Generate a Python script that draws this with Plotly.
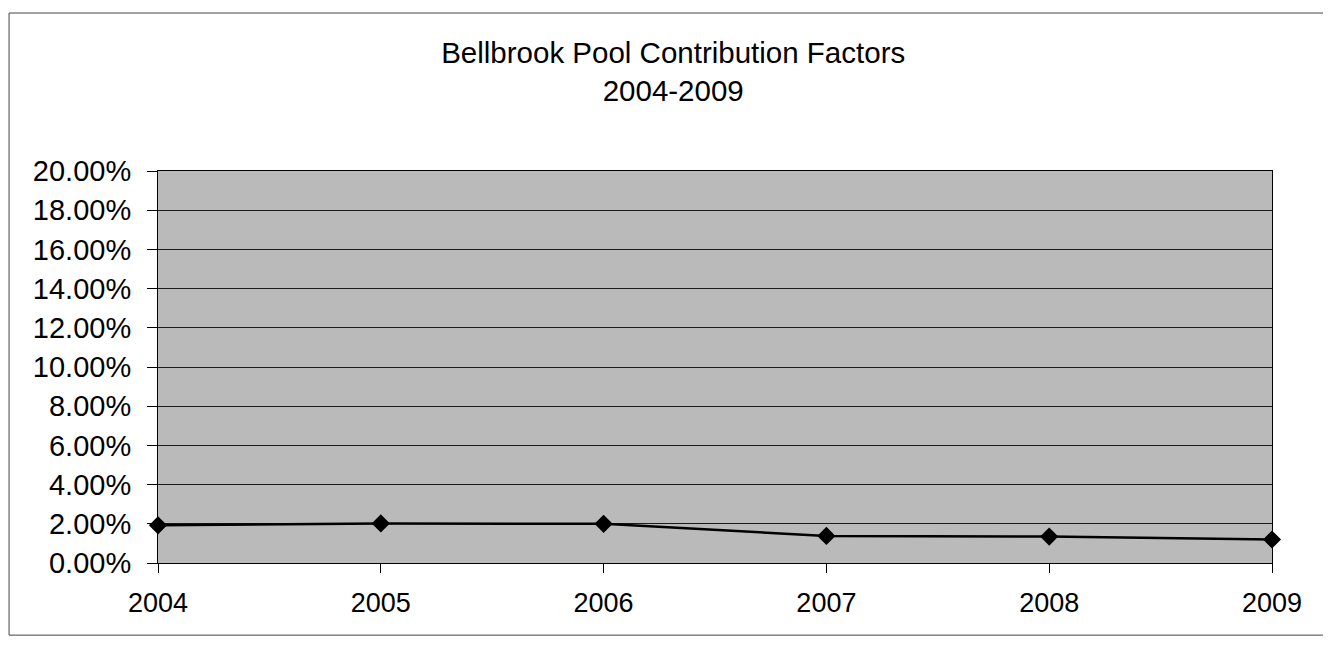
import plotly.graph_objects as go

years = [2004, 2005, 2006, 2007, 2008, 2009]
factors = [0.0192, 0.0202, 0.0200, 0.0138, 0.0135, 0.0120]
y_ticks = [i / 100 for i in range(0, 21, 2)]
y_tick_labels = [f"{v*100:.2f}%" for v in y_ticks]

fig = go.Figure()
fig.add_trace(go.Scatter(
    x=years, y=factors, mode="lines+markers",
    line=dict(color="black", width=2.5),
    marker=dict(symbol="diamond", size=14, color="black"),
    showlegend=False, cliponaxis=False,
))

font = "Liberation Sans, Arial, sans-serif"
frame = dict(color="#444444", width=1)
fx0, fx1, fy0, fy1 = -0.1337, 1.25, -0.184, 1.403
fig.update_layout(
    width=1323, height=639,
    margin=dict(l=150, r=59, t=163, b=84),
    paper_bgcolor="white",
    plot_bgcolor="#bababa",
    font=dict(family=font, color="black"),
    title=dict(
        text="Bellbrook Pool Contribution Factors<br>2004-2009",
        x=0.5028, xanchor="center", y=0.914, yanchor="top",
        font=dict(size=29.5, family=font, color="black"),
    ),
    xaxis=dict(
        range=[2004, 2009], tickvals=years, ticktext=[str(y) for y in years],
        ticks="outside", ticklen=9, tickcolor="black", tickwidth=1,
        showgrid=False, zeroline=False,
        showline=True, linecolor="black", linewidth=1, mirror=True,
        tickfont=dict(size=27), ticklabelstandoff=7,
    ),
    yaxis=dict(
        range=[0, 0.20], tickvals=y_ticks, ticktext=y_tick_labels,
        ticks="outside", ticklen=10, tickcolor="black", tickwidth=1,
        showgrid=True, gridcolor="#1a1a1a", gridwidth=1,
        zeroline=False,
        showline=True, linecolor="black", linewidth=1, mirror=True,
        tickfont=dict(size=29), ticklabelstandoff=10,
    ),
    shapes=[
        dict(type="line", xref="paper", yref="paper", x0=fx0, x1=fx0, y0=fy0, y1=fy1, line=frame),
        dict(type="line", xref="paper", yref="paper", x0=fx0, x1=fx1, y0=fy1, y1=fy1, line=frame),
        dict(type="line", xref="paper", yref="paper", x0=fx0, x1=fx1, y0=fy0, y1=fy0, line=frame),
    ],
)

fig.write_html("out.html")
